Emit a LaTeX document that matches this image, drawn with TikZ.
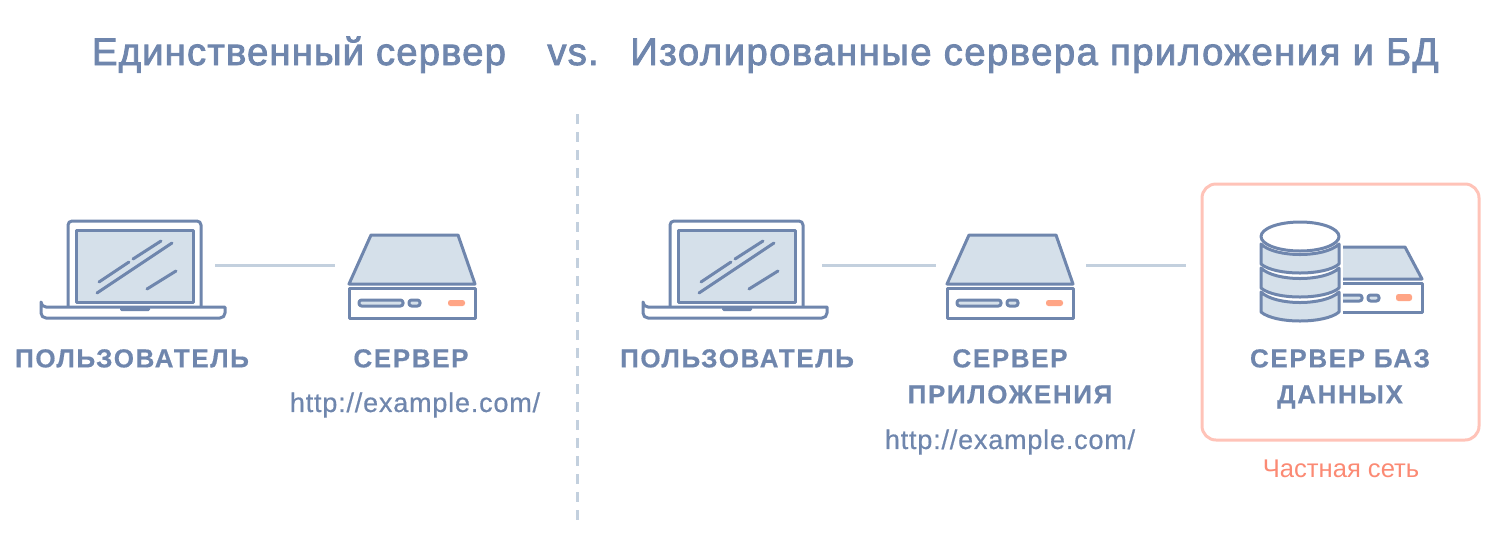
\documentclass[tikz,border=0pt]{standalone}
\usepackage{fontspec}
\setmainfont{Liberation Sans}
\definecolor{slate}{HTML}{6F86AD}
\definecolor{paleblue}{HTML}{D5E0EA}
\definecolor{wire}{HTML}{C3D0DE}
\definecolor{amber}{HTML}{FFA586}
\definecolor{blush}{HTML}{FFC3B8}
\definecolor{coral}{HTML}{FB8A74}
\tikzset{
	icon/.style={draw=slate,line width=3pt,line join=round},
	glare/.style={draw=slate,line width=3pt,line cap=round},
	link/.style={draw=wire,line width=3pt},
	heading/.style={anchor=base,text=slate,inner sep=0pt,font=\fontsize{38.3}{38}\selectfont\addfontfeatures{FakeBold=2.2,LetterSpace=3}},
	caption/.style={anchor=north,text=slate,align=center,inner sep=0pt,font=\fontsize{26}{36}\selectfont\bfseries\addfontfeatures{FakeBold=.5,LetterSpace=6.3}},
	website/.style={text=slate,inner sep=0pt,font=\fontsize{27}{30}\selectfont\addfontfeatures{FakeBold=.6,LetterSpace=3}},
	laptop/.pic={
		\draw[icon,fill=white,rounded corners=4pt] (27,42) -- (27,-44) -- (160,-44) -- (160,42);
		\draw[icon,fill=paleblue] (35,-35) rectangle (152,37);
		\draw[glare] (58,17) -- (88,-3) (92,-6) -- (120,-24) (56,28) -- (131,-22) (106,24) -- (135,6);
		\draw[icon,fill=white] (0,42) -- (184,42) -- (184,46) [rounded corners=5pt] -- (184,53) -- (0,53) -- (0,42) -- cycle;
		\fill[slate,rounded corners=1.5pt] (79,42) rectangle (109,46);
	},
	server/.pic={
		\draw[icon,fill=paleblue] (22,-30) -- (109,-30) -- (126,19) -- (0,19) -- cycle;
		\draw[icon,fill=white] (0,23) rectangle (126,53);
		\draw[icon,fill=paleblue,rounded corners=2.5pt] (10,35) rectangle (54,41);
		\draw[icon,fill=paleblue,rounded corners=2.5pt] (60,35) rectangle (71,41);
		\fill[amber,rounded corners=2.5pt] (99,35) rectangle (116,41);
	},
}
\begin{document}
\begin{tikzpicture}[x=1pt,y=-1pt]
	\useasboundingbox (0,0) rectangle (1491,539);
	
	% titles
	\node[heading] (titleleft) at (299,65) {Единственный сервер};
	\node[heading] (titlevs) at (573,65) {vs.};
	\node[heading] (titleright) at (1034.5,65) {\addfontfeatures{FakeBold=2.2,LetterSpace=3.8}Изолированные сервера приложения и БД};
	
	\draw[draw=wire,line width=3pt,dash pattern=on 10pt off 8pt] (577,114) -- (577,520);
	
	% private network frame
	\draw[draw=blush,line width=3pt,rounded corners=14pt] (1202,184) rectangle (1479,440);
	
	\pic at (41,265) {laptop};
	\pic at (349,265) {server};
	\pic at (643,265) {laptop};
	\pic at (947,265) {server};
	
	% small server behind the database
	\draw[icon,fill=paleblue] (1320,247) -- (1405,247) -- (1422,279) -- (1320,279) -- cycle;
	\draw[icon,fill=white] (1320,283) rectangle (1422,312);
	\draw[icon,fill=paleblue,rounded corners=2.5pt] (1325,295) rectangle (1362,301);
	\draw[icon,fill=paleblue,rounded corners=2.5pt] (1368,295) rectangle (1379,301);
	\fill[amber,rounded corners=2.5pt] (1396,294) rectangle (1412,301);
	
	% database
	\fill[white] (1250,215) rectangle (1343,325);
	\foreach \y in {244,268,292}{
		\draw[icon,fill=paleblue] (1261,\y) -- (1261,\y+20) .. controls (1275,\y+32) and (1325,\y+32) .. (1339,\y+20) -- (1339,\y) .. controls (1325,\y+14) and (1275,\y+14) .. cycle;
	}
	\draw[icon,fill=white] (1300,236.5) ellipse [x radius=39pt,y radius=14.5pt];
	
	% connectors
	\coordinate (userleft) at (215,265);
	\coordinate (serverleft) at (335,265);
	\coordinate (userright) at (822,265);
	\coordinate (appleft) at (936,265);
	\coordinate (appright) at (1086,265);
	\coordinate (dbleft) at (1186,265);
	\draw[link] (userleft) -- (serverleft);
	\draw[link] (userright) -- (appleft);
	\draw[link] (appright) -- (dbleft);
	
	% labels
	\node[caption] (userone) at (132,349) {ПОЛЬЗОВАТЕЛЬ};
	\node[caption] (serverone) at (411,349) {СЕРВЕР};
	\node[website] (urlone) at (415,405) {http://example.com/};
	\node[caption] (usertwo) at (737,349) {ПОЛЬЗОВАТЕЛЬ};
	\node[caption] (apptwo) at (1010,349) {СЕРВЕР\\ПРИЛОЖЕНИЯ};
	\node[website] (urltwo) at (1010,442) {http://example.com/};
	\node[caption] (dbtwo) at (1340,349) {СЕРВЕР БАЗ\\ДАННЫХ};
	\node[text=coral,inner sep=0pt,font=\fontsize{25.6}{30}\selectfont] (privnet) at (1341,469) {Частная сеть};
	
\end{tikzpicture}
\end{document}
